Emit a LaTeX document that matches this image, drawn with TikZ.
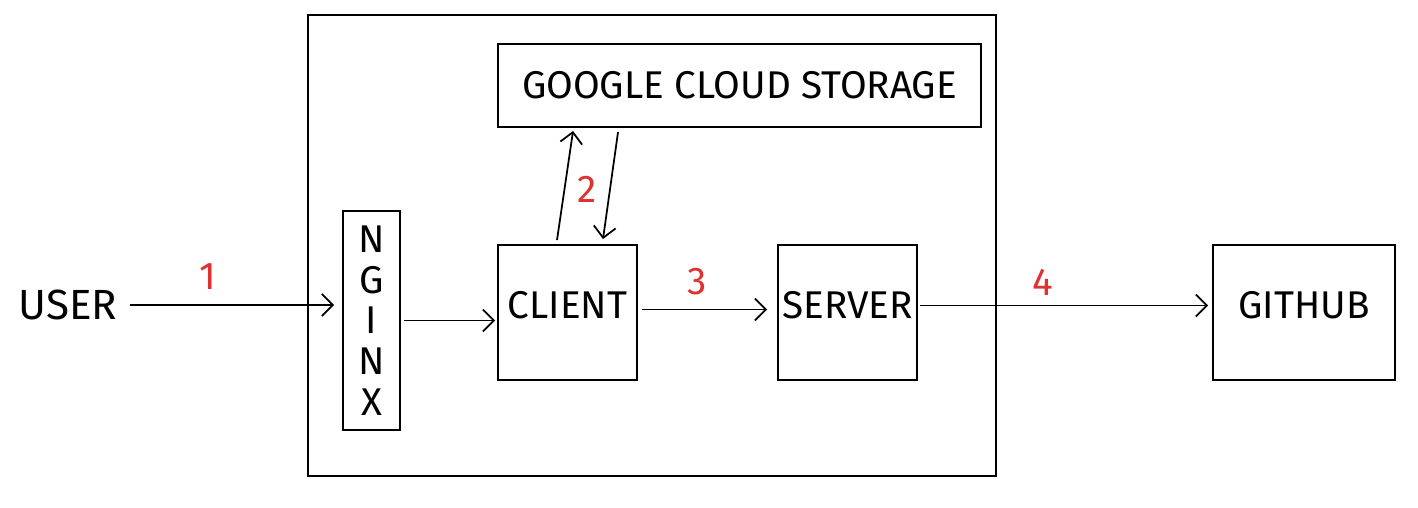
\documentclass[tikz,border=0pt]{standalone}
\usepackage{fontspec}
\setmainfont{Fira Sans}
\usetikzlibrary{arrows.meta}
\definecolor{numred}{HTML}{E03131}

\begin{document}
\begin{tikzpicture}[
    box/.style={draw, line width=0.55pt, inner sep=0pt, align=center,
        font=\fontsize{11}{13}\selectfont},
    raised/.style={text depth=0.15cm},
    arr/.style={line width=0.5pt, -{Straight Barb[length=1.1mm, width=2.2mm]}},
    num/.style={text=numred, font=\fontsize{11}{13}\selectfont}
]
    \useasboundingbox (0,0) rectangle (14.18,5.07);
    \draw [line width=0.55pt] (3.08,0.31) rectangle (9.96,4.92);

    \node [box, minimum width=4.83cm, minimum height=0.83cm] (gcs) at (7.395,4.215) {GOOGLE CLOUD STORAGE};
    \node [box, minimum width=0.57cm, minimum height=2.19cm, font=\fontsize{11}{11.6}\selectfont] (nginx) at (3.715,1.865) {N\\G\\I\\N\\X};
    \node [box, raised, minimum width=1.39cm, minimum height=1.35cm] (client) at (5.675,1.945) {CLIENT};
    \node [box, raised, minimum width=1.39cm, minimum height=1.35cm] (server) at (8.475,1.945) {SERVER};
    \node [box, raised, minimum width=1.82cm, minimum height=1.35cm] (github) at (13.04,1.945) {GITHUB};
    \node [font=\fontsize{12}{14}\selectfont, inner sep=1pt] (user) at (0.68,2.02) {USER};

    \draw [arr, shorten <=0.08cm, shorten >=0.08cm] (user.east) -- (user.east -| nginx.west);
    \draw [arr, shorten <=0.03cm, shorten >=0.02cm] (nginx.east) -- (nginx.east -| client.west);
    \draw [arr] ([xshift=-0.105cm, yshift=0.04cm]client.north) -- ([xshift=0.76cm, yshift=-0.03cm]gcs.south west);
    \draw [arr] ([xshift=1.21cm, yshift=-0.04cm]gcs.south west) -- ([xshift=0.355cm, yshift=0.05cm]client.north);
    \draw [arr, shorten <=0.04cm, shorten >=0.1cm] ([yshift=0.03cm]client.east) -- ([yshift=0.03cm]client.east -| server.west);
    \draw [arr, shorten <=0.02cm, shorten >=0.04cm] ([yshift=0.07cm]server.east) -- ([yshift=0.07cm]server.east -| github.west);

    \node [num] (n1) at (2.08,2.30) {1};
    \node [num] (n2) at (5.87,3.18) {2};
    \node [num] (n3) at (6.97,2.25) {3};
    \node [num] (n4) at (10.43,2.25) {4};
\end{tikzpicture}
\end{document}
